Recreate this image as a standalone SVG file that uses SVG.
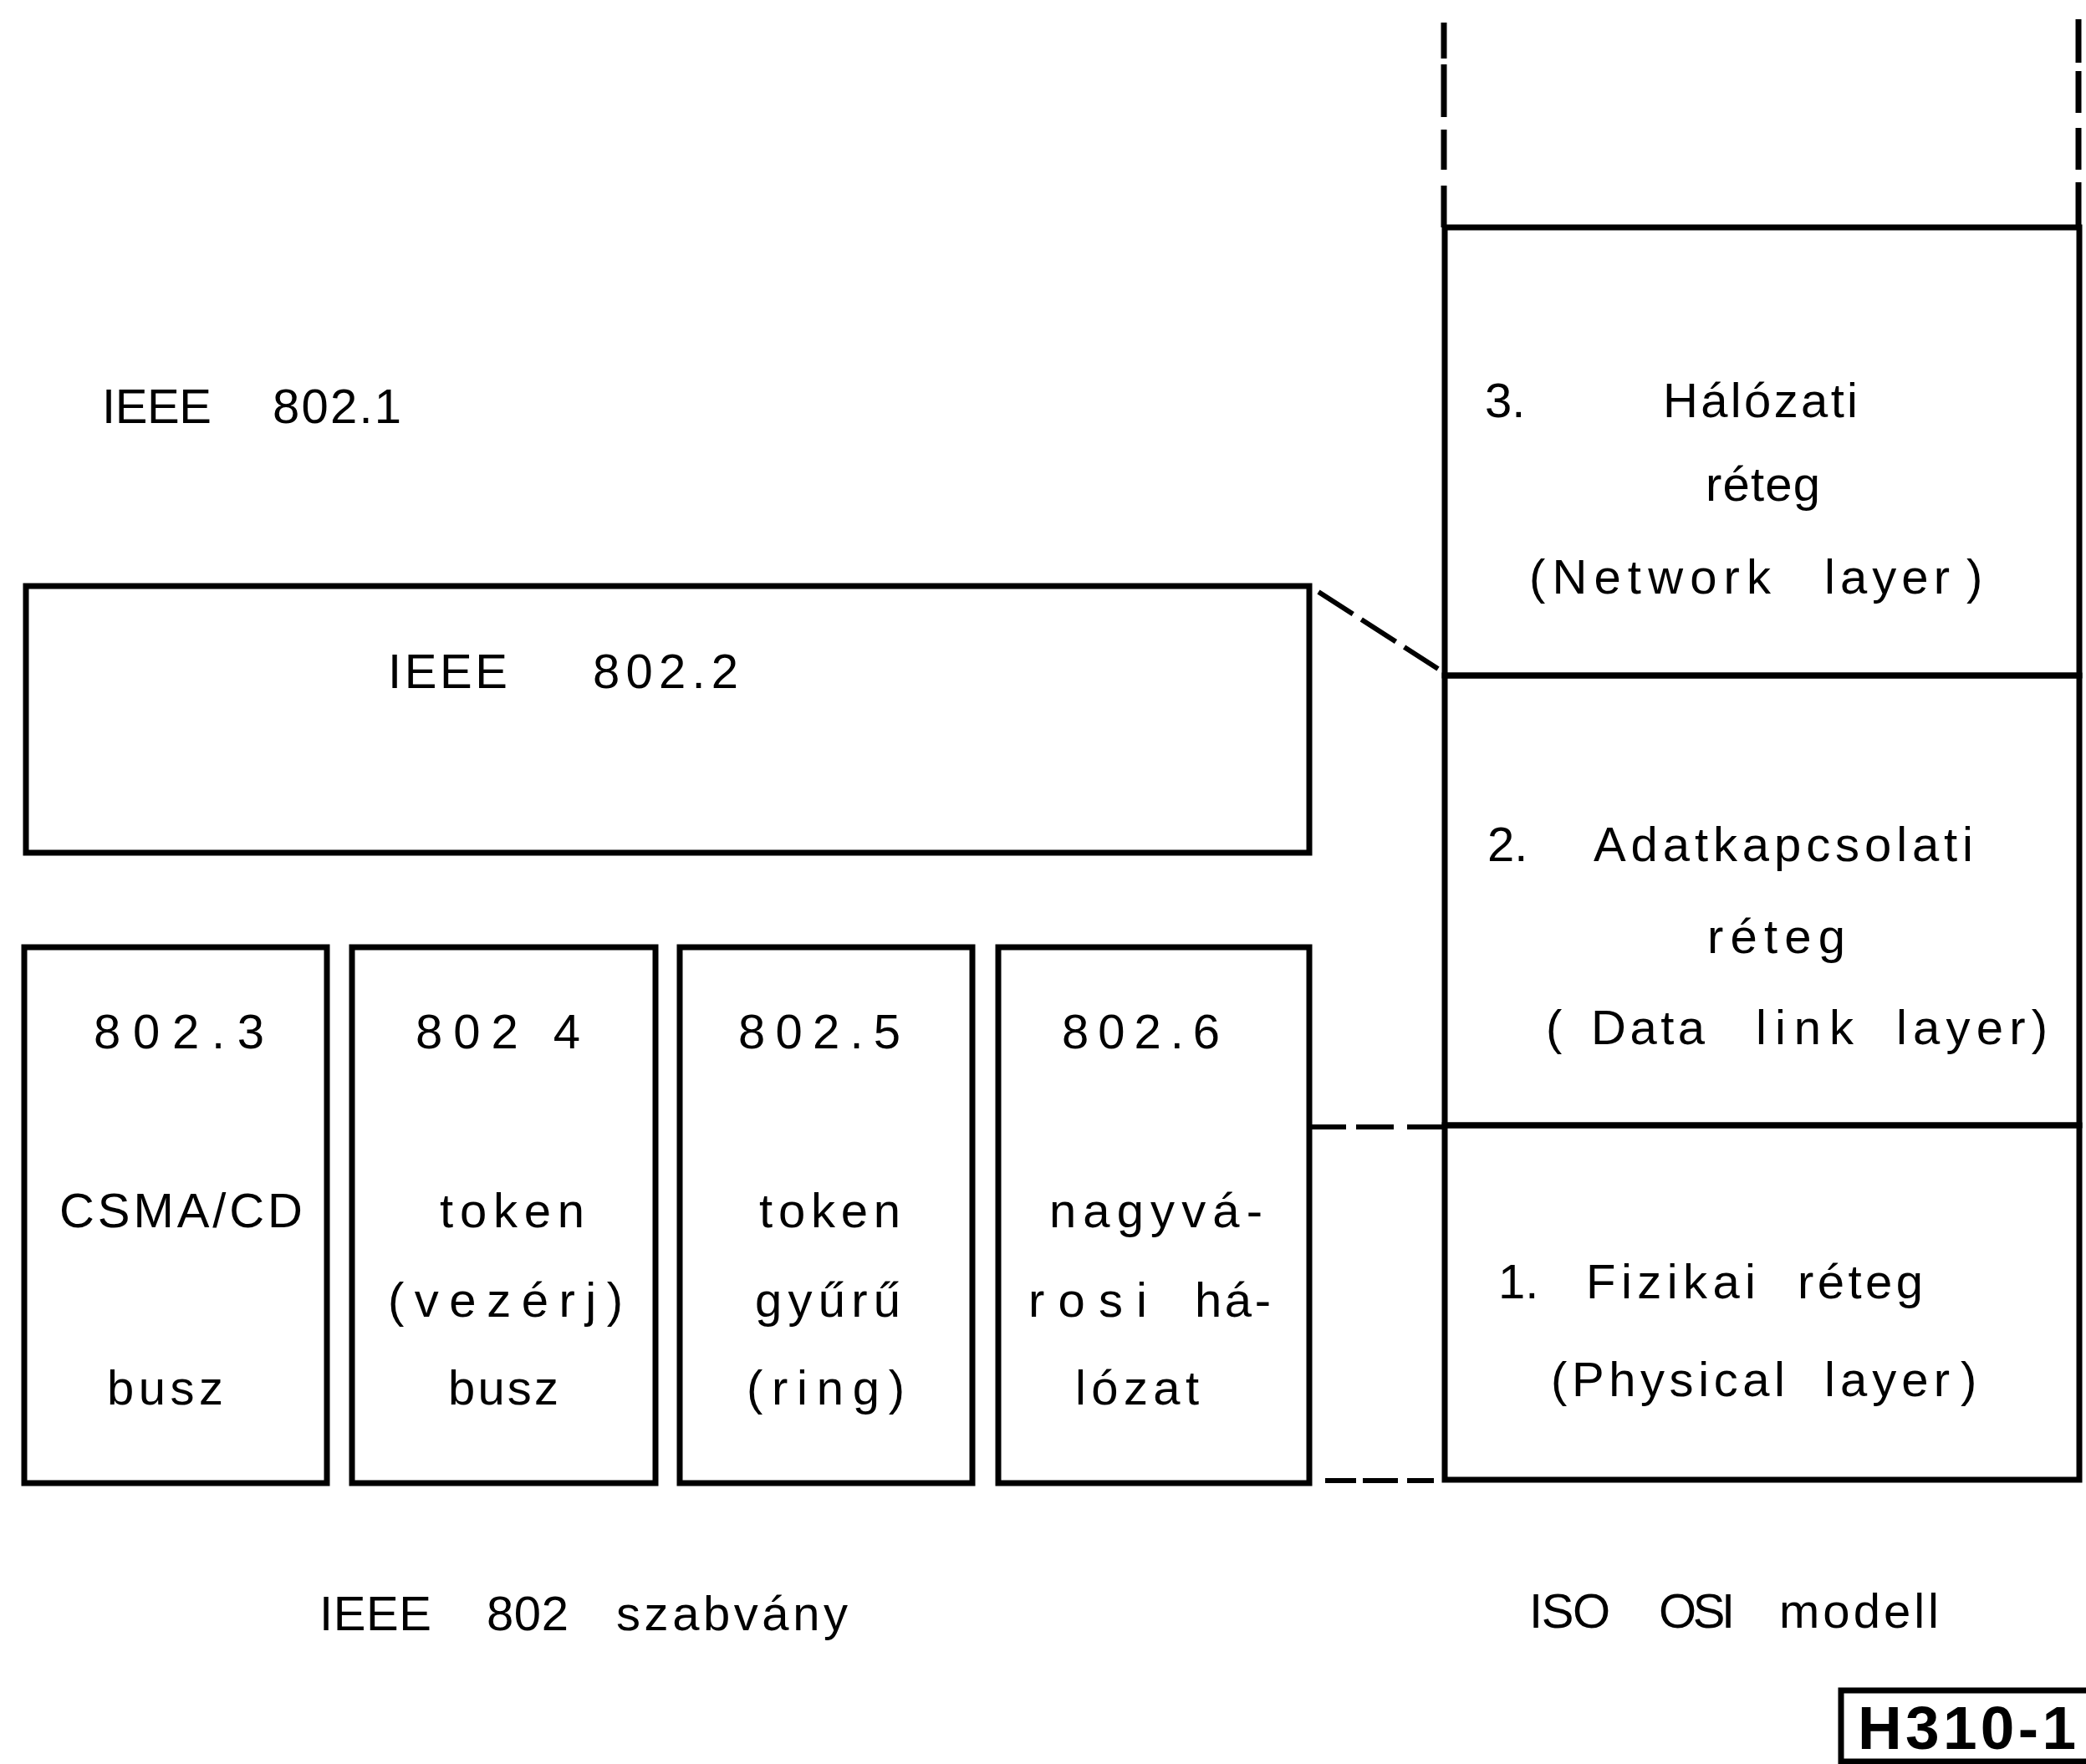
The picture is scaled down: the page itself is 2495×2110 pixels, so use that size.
<svg xmlns="http://www.w3.org/2000/svg" width="2495" height="2110" viewBox="0 0 2495 2110">
<style>
.t{font-family:"Liberation Sans",Arial,sans-serif;font-size:58px;fill:#000}
.h{font-family:"Liberation Sans",Arial,sans-serif;font-size:73px;font-weight:bold;fill:#000}
.b{fill:none;stroke:#000;stroke-width:7}
.d{fill:none;stroke:#000;stroke-width:6}
</style>
<rect width="2495" height="2110" fill="#fff"/>

<g id="ieee8021">
<text class="t" y="506"><tspan x="122" textLength="131" lengthAdjust="spacing">IEEE</tspan> <tspan x="326" textLength="154" lengthAdjust="spacing">802.1</tspan></text>
</g>

<g id="ieee8022">
<rect class="b" x="31" y="701" width="1535" height="319"/>
<text class="t" y="823"><tspan x="464" textLength="143" lengthAdjust="spacing">IEEE</tspan> <tspan x="709" textLength="174" lengthAdjust="spacing">802.2</tspan></text>
</g>

<g id="b8023">
<rect class="b" x="29" y="1133" width="362" height="641"/>
<text class="t" x="112" y="1254" textLength="204" lengthAdjust="spacing">802.3</text>
<text class="t" x="71" y="1468" textLength="291" lengthAdjust="spacing">CSMA/CD</text>
<text class="t" x="128" y="1680" textLength="139" lengthAdjust="spacing">busz</text>
</g>

<g id="b8024">
<rect class="b" x="421" y="1133" width="363" height="641"/>
<text class="t" x="497" y="1254" textLength="197" lengthAdjust="spacing">802 4</text>
<text class="t" x="526" y="1468" textLength="173" lengthAdjust="spacing">token</text>
<text class="t" x="464" y="1575" textLength="281" lengthAdjust="spacing">(vezérj)</text>
<text class="t" x="536" y="1680" textLength="132" lengthAdjust="spacing">busz</text>
</g>

<g id="b8025">
<rect class="b" x="813" y="1133" width="350" height="641"/>
<text class="t" x="883" y="1254" textLength="194" lengthAdjust="spacing">802.5</text>
<text class="t" x="908" y="1468" textLength="169" lengthAdjust="spacing">token</text>
<text class="t" x="903" y="1575" textLength="174" lengthAdjust="spacing">gyűrű</text>
<text class="t" x="893" y="1680" textLength="189" lengthAdjust="spacing">(ring)</text>
</g>

<g id="b8026">
<rect class="b" x="1194" y="1133" width="372" height="641"/>
<text class="t" x="1270" y="1254" textLength="189" lengthAdjust="spacing">802.6</text>
<text class="t" x="1255" y="1468" textLength="255" lengthAdjust="spacing">nagyvá-</text>
<text class="t" y="1575"><tspan x="1230" textLength="142" lengthAdjust="spacing">rosi</tspan> <tspan x="1429" textLength="91" lengthAdjust="spacing">há-</tspan></text>
<text class="t" x="1286" y="1680" textLength="148" lengthAdjust="spacing">lózat</text>
</g>

<g id="osi-upper">
<path class="b" d="M1727 27V70M1727 77V140M1727 155V203M1727 222V272M2486 23V75M2486 85V135M2486 153V203M2486 218V272"/>
</g>

<g id="osi3">
<rect class="b" x="1728" y="272" width="759" height="536"/>
<text class="t" y="499"><tspan x="1776">3.</tspan> <tspan x="1989" textLength="233" lengthAdjust="spacing">Hálózati</tspan></text>
<text class="t" x="2040" y="599" textLength="137" lengthAdjust="spacing">réteg</text>
<text class="t" y="710"><tspan x="1829" textLength="289" lengthAdjust="spacing">(Network</tspan> <tspan x="2182" textLength="150" lengthAdjust="spacing">layer</tspan><tspan x="2352">)</tspan></text>
</g>

<g id="osi2">
<rect class="b" x="1728" y="808" width="759" height="538"/>
<text class="t" y="1030"><tspan x="1779">2.</tspan> <tspan x="1906" textLength="454" lengthAdjust="spacing">Adatkapcsolati</tspan></text>
<text class="t" x="2042" y="1140" textLength="165" lengthAdjust="spacing">réteg</text>
<text class="t" y="1249"><tspan x="1849">(</tspan><tspan x="1903" textLength="136" lengthAdjust="spacing">Data</tspan> <tspan x="2100" textLength="117" lengthAdjust="spacing">link</tspan> <tspan x="2268" textLength="181" lengthAdjust="spacing">layer)</tspan></text>
</g>

<g id="osi1">
<rect class="b" x="1728" y="1346" width="759" height="424"/>
<text class="t" y="1553"><tspan x="1792">1.</tspan> <tspan x="1897" textLength="203" lengthAdjust="spacing">Fizikai</tspan> <tspan x="2150" textLength="150" lengthAdjust="spacing">réteg</tspan></text>
<text class="t" y="1670"><tspan x="1855" textLength="280" lengthAdjust="spacing">(Physical</tspan> <tspan x="2182" textLength="150" lengthAdjust="spacing">layer</tspan><tspan x="2345">)</tspan></text>
</g>

<g id="connectors">
<path class="d" d="M1577 708L1720 800" stroke-dasharray="49 12"/>
<path class="d" d="M1568 1348H1610M1622 1348H1667M1683 1348H1728"/>
<path class="d" d="M1585 1771H1622M1630 1771H1672M1683 1771H1715"/>
</g>

<g id="label-ieee">
<text class="t" y="1950"><tspan x="382" textLength="134" lengthAdjust="spacing">IEEE</tspan> <tspan x="582" textLength="98" lengthAdjust="spacing">802</tspan> <tspan x="737" textLength="277" lengthAdjust="spacing">szabvány</tspan></text>
</g>

<g id="label-osi">
<text class="t" y="1947"><tspan x="1829" textLength="97" lengthAdjust="spacing">ISO</tspan> <tspan x="1984" textLength="91" lengthAdjust="spacing">OSI</tspan> <tspan x="2128" textLength="191" lengthAdjust="spacing">modell</tspan></text>
</g>

<g id="figure-id">
<rect class="b" x="2202" y="2022" width="330" height="85"/>
<text class="h" x="2222" y="2092" textLength="261" lengthAdjust="spacing">H310-1</text>
</g>
</svg>
